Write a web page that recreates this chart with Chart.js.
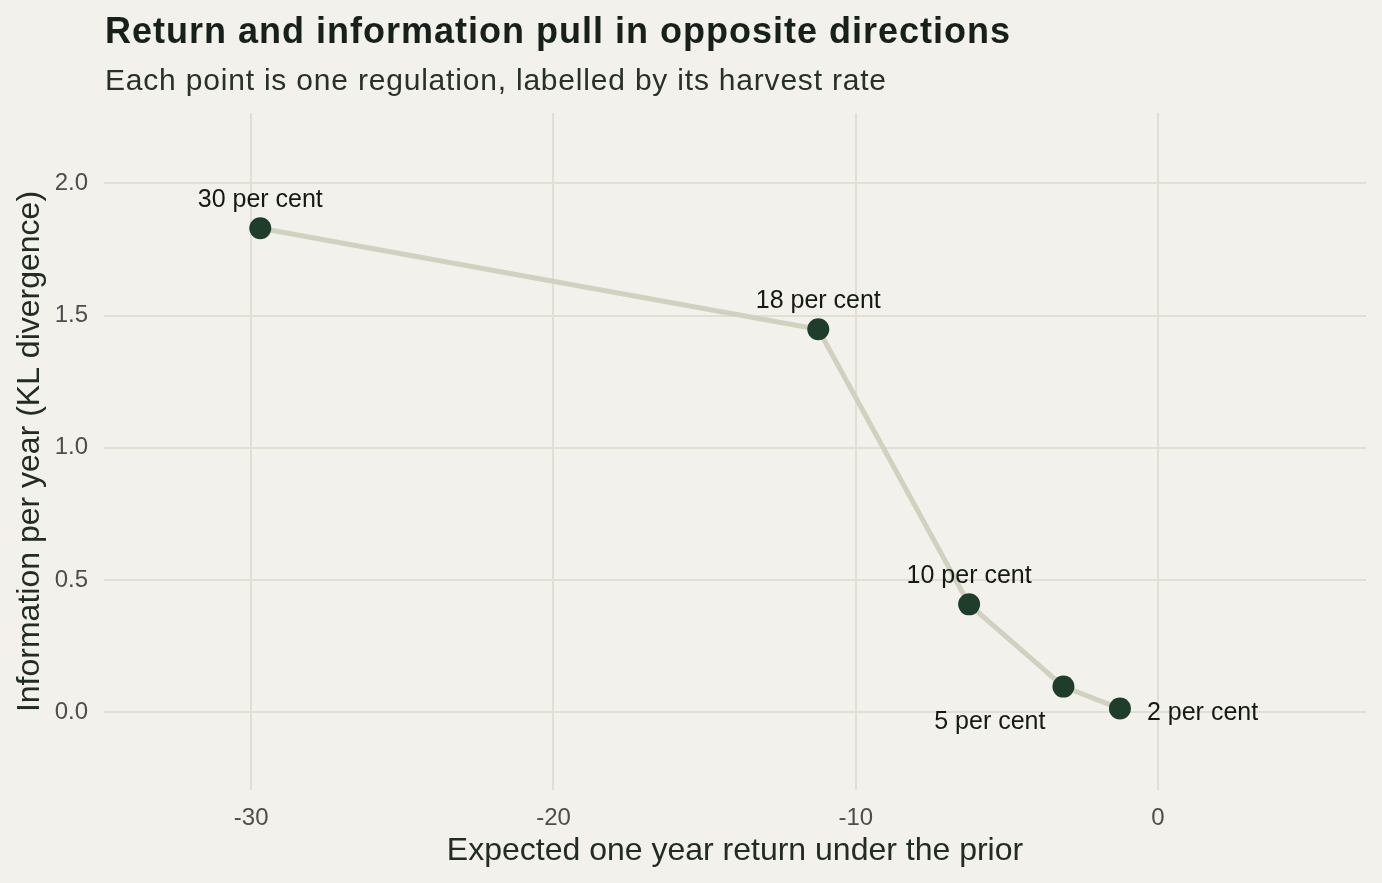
<!DOCTYPE html>
<html>
<head>
<meta charset="utf-8">
<title>Return and information</title>
<script src="https://cdn.jsdelivr.net/npm/chart.js@4.4.1/dist/chart.umd.min.js"></script>
<style>
  html, body { margin: 0; padding: 0; background: #f2f1eb; }
  canvas { display: block; }
</style>
</head>
<body>
<canvas id="kl-chart" width="1382" height="883"></canvas>
<script>
// Values
const harvestLabels = ['30 per cent', '18 per cent', '10 per cent', '5 per cent', '2 per cent'];
const expectedReturn = [-29.70, -11.24, -6.25, -3.13, -1.26];
const informationKL = [1.830, 1.448, 0.408, 0.097, 0.014];
const xTickValues = [-30, -20, -10, 0];
const yTickValues = [0, 0.5, 1.0, 1.5, 2.0];

const titleText = 'Return and information pull in opposite directions';
const subtitleText = 'Each point is one regulation, labelled by its harvest rate';
const xTitle = 'Expected one year return under the prior';
const yTitle = 'Information per year (KL divergence)';

// where each label sits relative to its point
const labelPlacement = ['above', 'above', 'above', 'belowLeft', 'right'];

const FONT = "'Liberation Sans', Arial, Helvetica, sans-serif";

const textPlugin = {
    id: 'chartText',
    beforeDraw(chart) {
        const ctx = chart.ctx;
        ctx.save();
        ctx.fillStyle = '#f2f1eb';
        ctx.fillRect(0, 0, chart.width, chart.height);
        ctx.restore();
    },
    afterDatasetsDraw(chart) {
        const ctx = chart.ctx;
        const points = chart.getDatasetMeta(0).data;
        ctx.save();
        ctx.font = '25px ' + FONT;
        ctx.fillStyle = '#141914';
        points.forEach((pt, i) => {
            const place = labelPlacement[i];
            ctx.textBaseline = 'middle';
            if (place === 'above') {
                ctx.textAlign = 'center';
                ctx.fillText(harvestLabels[i], pt.x, pt.y - 28);
            } else if (place === 'belowLeft') {
                ctx.textAlign = 'right';
                ctx.fillText(harvestLabels[i], pt.x - 18, pt.y + 36);
            } else {
                ctx.textAlign = 'left';
                ctx.fillText(harvestLabels[i], pt.x + 27, pt.y + 5);
            }
        });
        ctx.restore();
    },
    afterDraw(chart) {
        const ctx = chart.ctx;
        const left = chart.chartArea.left + 1;
        ctx.save();
        ctx.textAlign = 'left';
        ctx.textBaseline = 'alphabetic';
        ctx.letterSpacing = '1px';
        ctx.font = 'bold 36px ' + FONT;
        ctx.fillStyle = '#17201a';
        ctx.fillText(titleText, left, 43);
        ctx.letterSpacing = '0.8px';
        ctx.font = '30px ' + FONT;
        ctx.fillStyle = '#283029';
        ctx.fillText(subtitleText, left, 90);
        ctx.restore();
    }
};

const ctx = document.getElementById('kl-chart');

new Chart(ctx, {
    type: 'scatter',
    data: {
        datasets: [{
            label: 'Regulations',
            data: expectedReturn.map((x, i) => ({ x: x, y: informationKL[i] })),
            showLine: true,
            borderColor: '#d1d1bf',
            borderWidth: 5,
            pointRadius: 11,
            pointHoverRadius: 11,
            pointBackgroundColor: '#1e3d2b',
            pointBorderColor: '#1e3d2b',
            pointBorderWidth: 0,
            tension: 0
        }]
    },
    options: {
        responsive: false,
        animation: false,
        layout: {
            padding: { top: 113, right: 16, left: 0, bottom: 0 }
        },
        scales: {
            x: {
                type: 'linear',
                min: -34.87,
                max: 6.88,
                afterBuildTicks: scale => {
                    scale.ticks = xTickValues.map(v => ({ value: v }));
                },
                afterFit: scale => {
                    scale.height = 93;
                },
                grid: {
                    color: '#e0dfd4',
                    lineWidth: 2,
                    drawTicks: false
                },
                border: { display: false },
                ticks: {
                    padding: 14,
                    color: '#4d4d4d',
                    font: { family: FONT, size: 24 },
                    callback: v => String(v)
                },
                title: {
                    display: true,
                    text: xTitle,
                    color: '#222b24',
                    font: { family: FONT, size: 32, lineHeight: 1 },
                    padding: { top: 0, bottom: 16 }
                }
            },
            y: {
                type: 'linear',
                min: -0.294,
                max: 2.266,
                afterBuildTicks: scale => {
                    scale.ticks = yTickValues.map(v => ({ value: v }));
                },
                afterFit: scale => {
                    scale.width = 104;
                },
                grid: {
                    color: '#e0dfd4',
                    lineWidth: 2,
                    drawTicks: false
                },
                border: { display: false },
                ticks: {
                    padding: 16,
                    color: '#4d4d4d',
                    font: { family: FONT, size: 24 },
                    callback: v => v.toFixed(1)
                },
                title: {
                    display: true,
                    text: yTitle,
                    color: '#222b24',
                    font: { family: FONT, size: 32, lineHeight: 1 },
                    padding: { top: 14, bottom: 0 }
                }
            }
        },
        plugins: {
            legend: { display: false },
            tooltip: { enabled: false },
            title: { display: false }
        }
    },
    plugins: [textPlugin]
});
</script>
</body>
</html>
